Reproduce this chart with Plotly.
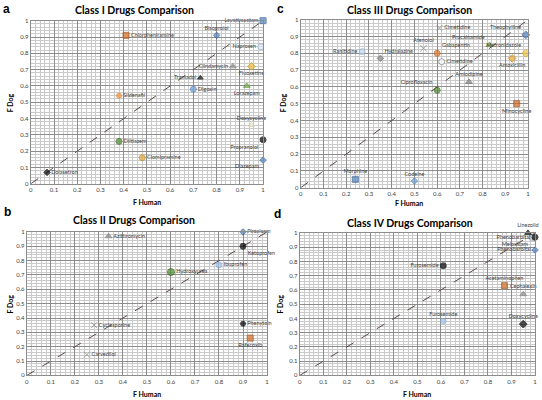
import plotly.graph_objects as go

# ---------------- data ----------------
class1_drugs = ["Levetiracetam", "Bisoprolol", "Chlorpheniramine", "Naproxen", "Clindamycin",
                "Fluoxetine", "Tramadol", "Digoxin", "Lorazepam", "Sildenafil", "Doxycycline",
                "Propranolol", "Diazepam", "Diltiazem", "Clomipramine", "Dolasetron"]
class1_human = [1.00, 0.80, 0.41, 0.99, 0.87, 0.95, 0.73, 0.70, 0.93, 0.38, 0.95, 1.00, 1.00, 0.38, 0.48, 0.07]
class1_dog = [1.00, 0.91, 0.91, 0.84, 0.72, 0.72, 0.65, 0.58, 0.60, 0.54, 0.36, 0.27, 0.145, 0.26, 0.16, 0.07]

class2_drugs = ["Piroxicam", "Ketoprofen", "Azithromycin", "Ibuprofen", "Hydroxyurea",
                "Cyclosporine", "Carvedilol", "Phenytoin", "Rofecoxib"]
class2_human = [0.90, 0.90, 0.34, 0.80, 0.60, 0.28, 0.25, 0.90, 0.93]
class2_dog = [1.00, 0.90, 0.97, 0.77, 0.72, 0.35, 0.145, 0.36, 0.26]

class3_drugs = ["Theophylline", "Cimetidine", "Procainamide", "Metronidazole", "Atenolol",
                "Gabapentin", "Ranitidine", "Hydralazine", "Cimetidine", "Amoxicillin",
                "Amlodipine", "Ciprofloxacin", "Minocycline", "Morphine", "Codeine"]
class3_human = [0.99, 0.61, 0.83, 0.99, 0.54, 0.60, 0.27, 0.35, 0.62, 0.93, 0.74, 0.60, 0.95, 0.24, 0.50]
class3_dog = [0.91, 0.95, 0.85, 0.80, 0.83, 0.80, 0.81, 0.77, 0.75, 0.77, 0.63, 0.58, 0.50, 0.05, 0.04]

class4_drugs = ["Linezolid", "Phenobarbital", "Meloxicam", "Phenobarbital", "Furosemide",
                "Acetaminophen", "Cephalexin", "Furosemide", "Doxycycline"]
class4_human = [0.97, 1.00, 0.99, 1.00, 0.61, 0.87, 0.95, 0.61, 0.95]
class4_dog = [1.00, 0.97, 0.97, 0.88, 0.77, 0.63, 0.57, 0.38, 0.36]

tick_vals = [0, 0.1, 0.2, 0.3, 0.4, 0.5, 0.6, 0.7, 0.8, 0.9, 1]
tick_text = ["0", "0.1", "0.2", "0.3", "0.4", "0.5", "0.6", "0.7", "0.8", "0.9", "1"]

panel_titles = ["Class I Drugs Comparison", "Class II Drugs Comparison",
                "Class III Drugs Comparison", "Class IV Drugs Comparison"]
panel_letters = ["a", "b", "c", "d"]

# ---------------- styles ----------------
BLUE = "#4F81BD"; DBLUE = "#2F5A8E"; LBLUE = "#9DC3E6"; ORANGE = "#D2691E"; LORANGE = "#F39B42"
GRAY = "#808080"; GOLD = "#EBB93A"; GREEN = "#70AD47"; DGREEN = "#4E8A2C"; BLACK = "#000000"

s1 = dict(
    symbol=["square", "diamond", "square", "circle", "triangle-up", "diamond", "triangle-up", "circle",
            "triangle-up", "circle", "triangle-up", "circle", "diamond", "circle", "circle", "diamond"],
    color=[BLUE, BLUE, ORANGE, "#DDE8F4", GRAY, GOLD, BLACK, "#6FA0D8", GREEN, LORANGE, "#F4F1D8",
           BLACK, BLUE, DGREEN, "#E3A83E", BLACK],
    line=[DBLUE, DBLUE, "#A04A14", "#8FAFD6", GRAY, "#C99A20", BLACK, BLUE, "#5A9236", "#D9782A", "#CFC9A0",
          BLACK, DBLUE, "#2F6218", "#B8801C", BLACK],
    size=[6, 5, 6, 6, 6, 6, 5, 6, 6, 5, 5, 6, 5, 6, 6, 5],
    pos=["middle left", "top center", "middle right", "middle left", "middle left", "bottom center",
         "middle left", "middle right", "bottom center", "middle right", "top center", "bottom left",
         "bottom left", "middle right", "middle right", "middle right"],
)
s2 = dict(
    symbol=["diamond", "circle", "triangle-up", "circle", "circle", "x-thin", "x-thin", "circle", "square"],
    color=[BLUE, BLACK, GRAY, LBLUE, DGREEN, GRAY, GRAY, BLACK, ORANGE],
    line=[DBLUE, BLACK, GRAY, "#7FA7D2", "#2F6218", GRAY, GRAY, BLACK, "#A04A14"],
    size=[5, 6, 6, 6, 7, 6, 6, 5, 6],
    pos=["middle right", "bottom right", "middle right", "middle right", "middle right",
         "middle right", "middle right", "middle right", "bottom center"],
)
s3 = dict(
    symbol=["diamond", "x-thin", "triangle-up", "diamond", "x-thin", "circle", "circle", "diamond",
            "circle", "diamond", "triangle-up", "circle", "square", "square", "diamond"],
    color=[BLUE, GRAY, GREEN, "#F5C542", GRAY, "#E07B2A", "#BDD3EC", GRAY, "#FFFFFF", "#E6A530",
           GRAY, DGREEN, ORANGE, BLUE, "#6FA0D8"],
    line=[DBLUE, GRAY, "#5A9236", "#D9A520", GRAY, "#B25A18", "#8FAFD6", "#666666", GRAY, "#C0841C",
          "#666666", "#2F6218", "#A04A14", DBLUE, BLUE],
    size=[6, 6, 6, 6, 7, 6, 6, 5, 6, 6, 6, 6, 6, 6, 5],
    pos=["top left", "middle right", "top left", "top left", "top center", "top right", "middle left",
         "top right", "middle right", "bottom center", "top center", "top left", "bottom center",
         "top center", "top center"],
)
s4 = dict(
    symbol=["triangle-up", "circle", "square", "diamond", "circle", "square", "triangle-up", "diamond", "diamond"],
    color=[BLACK, BLACK, "#BFBFBF", BLUE, BLACK, ORANGE, GRAY, LBLUE, BLACK],
    line=[BLACK, BLACK, "#999999", DBLUE, BLACK, "#A04A14", GRAY, "#7FA7D2", BLACK],
    size=[6, 6, 6, 5, 6, 6, 6, 5, 6],
    pos=["top center", "middle left", "bottom left", "middle left", "middle left", "top center",
         "top center", "top center", "top center"],
)

W, H = 542, 400
# pixel boxes: (x0, x1, ytop, ybottom)
boxes = [(29, 263, 17, 183), (25, 267, 232, 378), (301, 530, 16, 187), (300, 537, 233, 378)]
panels = [(class1_drugs, class1_human, class1_dog, s1),
          (class2_drugs, class2_human, class2_dog, s2),
          (class3_drugs, class3_human, class3_dog, s3),
          (class4_drugs, class4_human, class4_dog, s4)]

FONT = "Lato, 'Liberation Sans', Arial, sans-serif"
fig = go.Figure()
annotations = []
layout_axes = {}

for i, ((names, hx, dy, st), (x0, x1, yt, yb)) in enumerate(zip(panels, boxes)):
    n = i + 1
    xa = "x" if n == 1 else f"x{n}"
    ya = "y" if n == 1 else f"y{n}"
    # diagonal line of identity
    fig.add_trace(go.Scatter(x=[0, 1], y=[0, 1], mode="lines", xaxis=xa, yaxis=ya,
                             line=dict(color="#5A4A44", width=1, dash="dash"),
                             hoverinfo="skip", showlegend=False))
    # draw in reverse so earlier-listed markers sit on top
    fig.add_trace(go.Scatter(
        x=hx[::-1], y=dy[::-1], mode="markers+text", text=names[::-1], textposition=st["pos"][::-1],
        textfont=dict(size=5.5, color="#404040", family=FONT),
        marker=dict(symbol=st["symbol"][::-1], color=st["color"][::-1], size=st["size"][::-1],
                    line=dict(color=st["line"][::-1], width=1)),
        xaxis=xa, yaxis=ya, showlegend=False, cliponaxis=False))

    axis_common = dict(range=[0, 1], tickvals=tick_vals, ticktext=tick_text,
                       tickfont=dict(size=6, color="#404040", family=FONT),
                       showgrid=True, gridcolor="#8C8C8C", gridwidth=1, zeroline=False,
                       showline=True, linecolor="#8C8C8C", linewidth=1, mirror=True,
                       ticks="", ticklen=0,
                       minor=dict(dtick=0.02, tick0=0, showgrid=True, gridcolor="#CACACA", gridwidth=0.6))
    layout_axes["xaxis" if n == 1 else f"xaxis{n}"] = dict(
        axis_common, domain=[x0 / W, x1 / W], anchor=ya)
    layout_axes["yaxis" if n == 1 else f"yaxis{n}"] = dict(
        axis_common, domain=[1 - yb / H, 1 - yt / H], anchor=xa)

# titles, letters, axis titles  (pixel positions)
title_pos = [(133, 6), (133, 220), (411, 6), (411, 223)]
letter_pos = [(5, 5), (6, 212), (281, 5), (278, 214)]
xtitle_pos = [(146, 202), (146, 397), (410, 203), (418, 397)]
ytitle_pos = [(8, 100), (8, 305), (283, 100), (280, 305)]

for i in range(4):
    tx, ty = title_pos[i]
    annotations.append(dict(text=f"<b>{panel_titles[i]}</b>", x=tx / W, y=1 - ty / H, xref="paper", yref="paper",
                            showarrow=False, font=dict(size=10.5, color="#000", family=FONT),
                            xanchor="center", yanchor="middle"))
    lx, ly = letter_pos[i]
    annotations.append(dict(text=f"<b>{panel_letters[i]}</b>", x=lx / W, y=1 - ly / H, xref="paper", yref="paper",
                            showarrow=False, font=dict(size=12, color="#000", family="Liberation Sans, Arial"),
                            xanchor="center", yanchor="middle"))
    hx_, hy_ = xtitle_pos[i]
    annotations.append(dict(text="<b>F Human</b>", x=hx_ / W, y=1 - hy_ / H, xref="paper", yref="paper",
                            showarrow=False, font=dict(size=7, color="#000", family=FONT),
                            xanchor="center", yanchor="middle"))
    vx, vy = ytitle_pos[i]
    annotations.append(dict(text="<b>F Dog</b>", x=vx / W, y=1 - vy / H, xref="paper", yref="paper",
                            showarrow=False, textangle=-90, font=dict(size=7, color="#000", family=FONT),
                            xanchor="center", yanchor="middle"))

fig.update_layout(width=W, height=H, margin=dict(l=0, r=0, t=0, b=0),
                  paper_bgcolor="white", plot_bgcolor="white",
                  annotations=annotations, **layout_axes)

fig.write_html("out.html", config={"displayModeBar": False},
               post_script="document.body.style.margin='0';document.body.style.overflow='hidden';")
